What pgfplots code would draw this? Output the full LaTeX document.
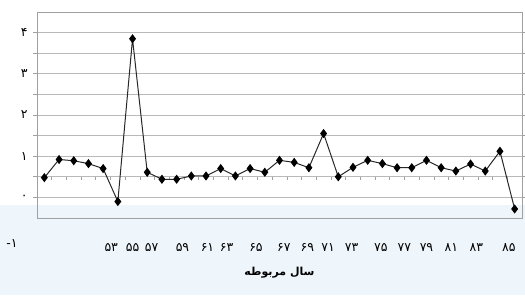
\documentclass[border=0pt]{standalone}
\usepackage{fontspec}
\usepackage{pgfplots}
\pgfplotsset{compat=1.18}
\newfontfamily\arabicfont[Script=Arabic]{DejaVu Sans}
\newfontfamily\latinfont{DejaVu Sans}
\TeXXeTstate=1
\definecolor{bgblue}{RGB}{239,246,251}
\definecolor{gridgray}{RGB}{185,185,185}
\definecolor{framegray}{RGB}{160,160,160}
\definecolor{linedark}{RGB}{40,40,40}
\pgfplotstableread{
x y
0 0.48
1 0.92
2 0.89
3 0.82
4 0.70
5 -0.10
6 3.85
7 0.61
8 0.44
9 0.44
10 0.52
11 0.52
12 0.70
13 0.52
14 0.70
15 0.61
16 0.90
17 0.85
18 0.72
19 1.55
20 0.50
21 0.73
22 0.90
23 0.82
24 0.72
25 0.72
26 0.90
27 0.72
28 0.64
29 0.81
30 0.64
31 1.12
32 -0.28
}\datatable
\begin{document}
\begin{tikzpicture}[x=1pt,y=1pt]
\path[use as bounding box] (0,0) rectangle (525,295);
\fill[bgblue] (0,0) rectangle (525,90);
\begin{axis}[
  at={(37pt,77pt)}, anchor=south west,
  scale only axis, width=485pt, height=206pt,
  xmin=-0.5, xmax=32.5, ymin=-0.5, ymax=4.5,
  axis line style={framegray},
  ytick={0,1,2,3,4},
  yticklabels={۰,۱,۲,۳,۴},
  minor ytick={0.5,1.5,2.5,3.5},
  ymajorgrids, yminorgrids,
  major grid style={gridgray, line width=0.8pt},
  minor grid style={gridgray, line width=0.8pt},
  ytick style={framegray, line width=0.8pt},
  tick align=outside,
  major tick length=4pt, minor tick length=4pt,
  yticklabel style={font=\arabicfont\fontsize{12.5}{14}\selectfont, xshift=-2pt},
  xtick={4.55,6.0,7.3,9.4,11.1,12.4,14.4,16.3,17.9,19.3,20.9,22.9,24.5,26.0,27.7,29.4,31.6},
  xticklabels={۵۳,۵۵,۵۷,۵۹,۶۱,۶۳,۶۵,۶۷,۶۹,۷۱,۷۳,۷۵,۷۷,۷۹,۸۱,۸۳,۸۵},
  xtick style={draw=none},
  xticklabel style={font=\arabicfont\fontsize{12.5}{14}\selectfont, anchor=base, yshift=-29pt},
  xlabel={\arabicfont\bfseries\beginR سال مربوطه\endR},
  xlabel style={font=\fontsize{11}{13}\selectfont, at={(axis description cs:0.5,0)}, anchor=base, yshift=-57pt},
  clip=false,
]
\pgfplotsinvokeforeach{0,...,31}{
  \draw[framegray, line width=0.6pt] (axis cs:#1+0.5,0.5) -- ([yshift=-3pt]axis cs:#1+0.5,0.5);
}
\addplot[linedark, line width=1pt, mark=diamond*, mark size=3.8pt, mark options={fill=black, draw=black}] table[x=x,y=y] {\datatable};
\node[anchor=base, inner sep=0pt] at ([yshift=-29pt]axis cs:-2.2,-0.5) {\fontsize{12.5}{14}\selectfont{\latinfont -}{\arabicfont ۱}};
\end{axis}
\end{tikzpicture}
\end{document}
